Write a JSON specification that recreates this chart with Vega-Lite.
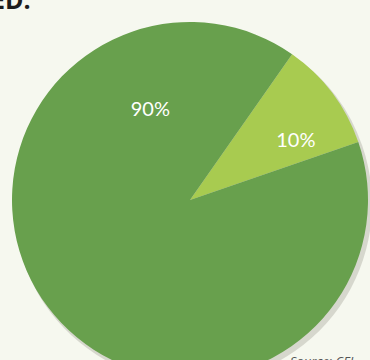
{
  "$schema": "https://vega.github.io/schema/vega-lite/v6.json",
  "width": 360,
  "height": 320,
  "autosize": {"type": "none"},
  "padding": {"left": 10, "top": 40, "right": 0, "bottom": 0},
  "background": "#f6f8ef",
  "config": {"view": {"stroke": null}},
  "data": {
    "values": [
      {"label": "10%", "value": 10, "order": 1},
      {"label": "90%", "value": 90, "order": 2}
    ]
  },
  "layer": [
    {
      "mark": {"type": "arc", "outerRadius": 179, "xOffset": 3, "yOffset": 4, "fill": "#9a9a90", "opacity": 0.35},
      "encoding": {
        "theta": {"field": "value", "type": "quantitative", "stack": true, "scale": {"range": [0.611, 6.894]}},
        "order": {"field": "order", "type": "quantitative"}
      }
    },
    {
      "mark": {"type": "arc", "outerRadius": 178},
      "encoding": {
        "theta": {"field": "value", "type": "quantitative", "stack": true},
        "order": {"field": "order", "type": "quantitative"},
        "color": {
          "field": "label",
          "type": "nominal",
          "scale": {"domain": ["10%", "90%"], "range": ["#a8cb50", "#68a04d"]},
          "legend": null
        }
      }
    },
    {
      "mark": {"type": "text", "radius": 121, "thetaOffset": 0.14, "font": "Lato", "fontSize": 20, "color": "white"},
      "encoding": {
        "theta": {"field": "value", "type": "quantitative", "stack": true},
        "order": {"field": "order", "type": "quantitative"},
        "text": {"condition": {"test": "datum.label === '10%'", "field": "label"}, "value": ""}
      }
    },
    {
      "mark": {"type": "text", "radius": 98, "thetaOffset": 1.8, "font": "Lato", "fontSize": 20, "color": "white"},
      "encoding": {
        "theta": {"field": "value", "type": "quantitative", "stack": true},
        "order": {"field": "order", "type": "quantitative"},
        "text": {"condition": {"test": "datum.label === '90%'", "field": "label"}, "value": ""}
      }
    },
    {
      "data": {"values": [{"note": "ED."}]},
      "mark": {"type": "text", "align": "left", "baseline": "alphabetic", "font": "Open Sans", "fontSize": 25, "fontWeight": "bold", "color": "#1c1c1c", "x": -19, "y": -31},
      "encoding": {"text": {"field": "note"}}
    },
    {
      "data": {"values": [{"note": "Source: CEI"}]},
      "mark": {"type": "text", "align": "left", "baseline": "top", "font": "Open Sans", "fontSize": 13, "fontStyle": "italic", "color": "#555555", "x": 280, "y": 316},
      "encoding": {"text": {"field": "note"}}
    }
  ]
}
